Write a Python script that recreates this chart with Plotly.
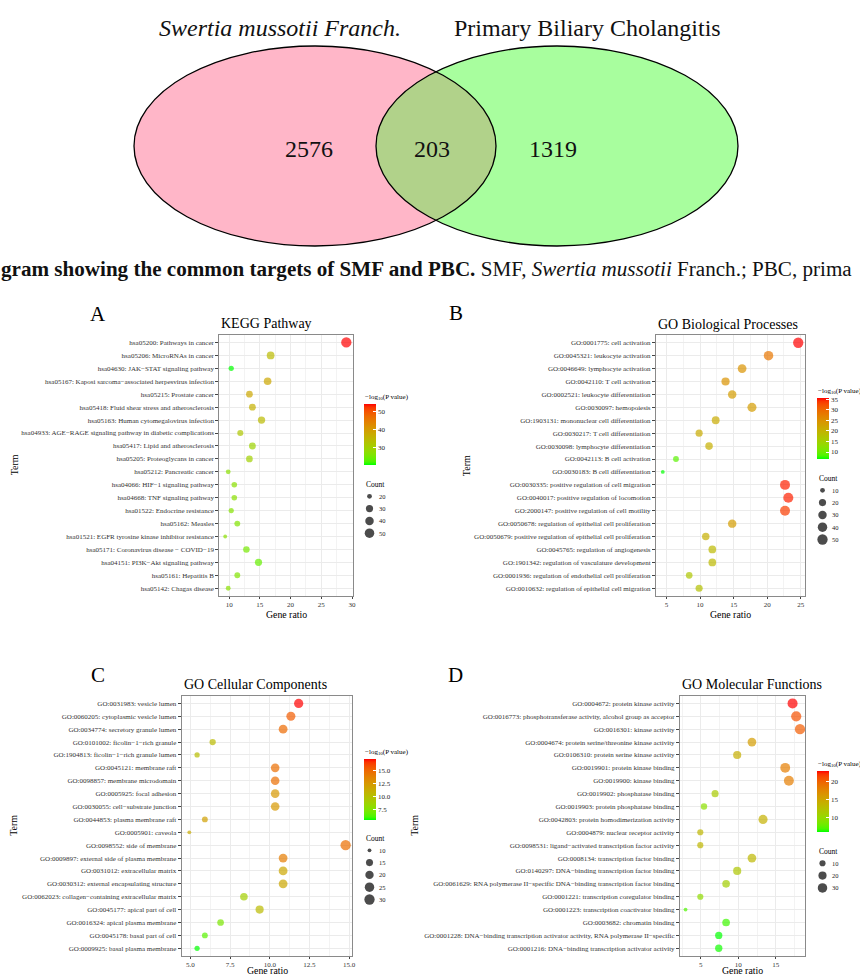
import math
import plotly.graph_objects as go

W, H = 860, 976
FONT = "Liberation Serif"

# ---------------- data ----------------
venn_names = ["Swertia mussotii Franch.", "Primary Biliary Cholangitis"]
venn_values = [2576, 203, 1319]  # left only, shared, right only

kegg_terms = [
    "hsa05200: Pathways in cancer", "hsa05206: MicroRNAs in cancer",
    "hsa04630: JAK−STAT signaling pathway",
    "hsa05167: Kaposi sarcoma−associated herpesvirus infection",
    "hsa05215: Prostate cancer", "hsa05418: Fluid shear stress and atherosclerosis",
    "hsa05163: Human cytomegalovirus infection",
    "hsa04933: AGE−RAGE signaling pathway in diabetic complications",
    "hsa05417: Lipid and atherosclerosis", "hsa05205: Proteoglycans in cancer",
    "hsa05212: Pancreatic cancer", "hsa04066: HIF−1 signaling pathway",
    "hsa04668: TNF signaling pathway", "hsa01522: Endocrine resistance",
    "hsa05162: Measles", "hsa01521: EGFR tyrosine kinase inhibitor resistance",
    "hsa05171: Coronavirus disease − COVID−19", "hsa04151: PI3K−Akt signaling pathway",
    "hsa05161: Hepatitis B", "hsa05142: Chagas disease",
]
kegg_ratio = [29.06, 16.75, 10.34, 16.26, 13.30, 13.79, 15.27, 11.82, 13.79, 13.30,
              9.85, 10.84, 10.84, 10.34, 11.33, 9.36, 12.81, 14.78, 11.33, 9.85]
kegg_count = [59, 34, 21, 33, 27, 28, 31, 24, 28, 27, 20, 22, 22, 21, 23, 19, 26, 30, 23, 20]
kegg_logp = [54.1, 34.1, 20.2, 37.8, 37.8, 36.1, 34.4, 32.1, 29.4, 30.0,
             27.0, 27.0, 27.0, 26.3, 26.0, 27.0, 25.0, 23.6, 26.0, 27.0]

bp_terms = [
    "GO:0001775: cell activation", "GO:0045321: leukocyte activation",
    "GO:0046649: lymphocyte activation", "GO:0042110: T cell activation",
    "GO:0002521: leukocyte differentiation", "GO:0030097: hemopoiesis",
    "GO:1903131: mononuclear cell differentiation", "GO:0030217: T cell differentiation",
    "GO:0030098: lymphocyte differentiation", "GO:0042113: B cell activation",
    "GO:0030183: B cell differentiation", "GO:0030335: positive regulation of cell migration",
    "GO:0040017: positive regulation of locomotion",
    "GO:2000147: positive regulation of cell motility",
    "GO:0050678: regulation of epithelial cell proliferation",
    "GO:0050679: positive regulation of epithelial cell proliferation",
    "GO:0045765: regulation of angiogenesis",
    "GO:1901342: regulation of vasculature development",
    "GO:0001936: regulation of endothelial cell proliferation",
    "GO:0010632: regulation of epithelial cell migration",
]
bp_ratio = [24.63, 20.20, 16.26, 13.79, 14.78, 17.73, 12.32, 9.85, 11.33, 6.40,
            4.43, 22.66, 23.15, 22.66, 14.78, 10.84, 11.82, 11.82, 8.37, 9.85]
bp_count = [50, 41, 33, 28, 30, 36, 25, 20, 23, 13, 9, 46, 47, 46, 30, 22, 24, 24, 17, 20]
bp_logp = [35.5, 28.3, 24.6, 24.6, 23.4, 23.4, 21.1, 21.1, 20.5, 9.0,
           6.7, 34.6, 34.6, 33.5, 23.4, 20.5, 18.8, 18.8, 16.8, 17.6]

cc_terms = [
    "GO:0031983: vesicle lumen", "GO:0060205: cytoplasmic vesicle lumen",
    "GO:0034774: secretory granule lumen", "GO:0101002: ficolin−1−rich granule",
    "GO:1904813: ficolin−1−rich granule lumen", "GO:0045121: membrane raft",
    "GO:0098857: membrane microdomain", "GO:0005925: focal adhesion",
    "GO:0030055: cell−substrate junction", "GO:0044853: plasma membrane raft",
    "GO:0005901: caveola", "GO:0098552: side of membrane",
    "GO:0009897: external side of plasma membrane", "GO:0031012: extracellular matrix",
    "GO:0030312: external encapsulating structure",
    "GO:0062023: collagen−containing extracellular matrix",
    "GO:0045177: apical part of cell", "GO:0016324: apical plasma membrane",
    "GO:0045178: basal part of cell", "GO:0009925: basal plasma membrane",
]
cc_ratio = [11.82, 11.33, 10.84, 6.40, 5.42, 10.34, 10.34, 10.34, 10.34, 5.91,
            4.93, 14.78, 10.84, 10.84, 10.84, 8.37, 9.36, 6.90, 5.91, 5.42]
cc_count = [24, 23, 22, 13, 11, 21, 21, 21, 21, 12, 10, 30, 22, 22, 22, 17, 19, 14, 12, 11]
cc_logp = [17.25, 15.5, 14.9, 10.4, 10.2, 14.7, 14.7, 12.55, 12.55, 12.0,
           11.4, 14.7, 14.0, 11.6, 11.6, 9.0, 10.4, 7.3, 6.4, 5.5]

mf_terms = [
    "GO:0004672: protein kinase activity",
    "GO:0016773: phosphotransferase activity, alcohol group as acceptor",
    "GO:0016301: kinase activity", "GO:0004674: protein serine/threonine kinase activity",
    "GO:0106310: protein serine kinase activity", "GO:0019901: protein kinase binding",
    "GO:0019900: kinase binding", "GO:0019902: phosphatase binding",
    "GO:0019903: protein phosphatase binding", "GO:0042803: protein homodimerization activity",
    "GO:0004879: nuclear receptor activity",
    "GO:0098531: ligand−activated transcription factor activity",
    "GO:0008134: transcription factor binding",
    "GO:0140297: DNA−binding transcription factor binding",
    "GO:0061629: RNA polymerase II−specific DNA−binding transcription factor binding",
    "GO:0001221: transcription coregulator binding",
    "GO:0001223: transcription coactivator binding", "GO:0003682: chromatin binding",
    "GO:0001228: DNA−binding transcription activator activity, RNA polymerase II−specific",
    "GO:0001216: DNA−binding transcription activator activity",
]
mf_ratio = [17.24, 17.73, 18.23, 11.82, 9.85, 16.26, 16.75, 6.90, 5.42, 13.30,
            4.93, 4.93, 11.82, 9.85, 8.37, 4.93, 2.96, 8.37, 7.39, 7.39]
mf_count = [35, 36, 37, 24, 20, 33, 34, 14, 11, 27, 10, 10, 24, 20, 17, 10, 6, 17, 15, 15]
mf_logp = [22.9, 20.9, 20.4, 15.8, 14.2, 18.2, 18.2, 11.5, 9.5, 14.0,
           13.5, 13.5, 13.3, 12.0, 11.1, 9.8, 7.1, 6.8, 6.1, 6.3]

panel_titles = ["KEGG Pathway", "GO Biological Processes",
                "GO Cellular Components", "GO Molecular Functions"]
panel_letters = ["A", "B", "C", "D"]
count_breaks = [[20, 30, 40, 50], [10, 20, 30, 40, 50], [10, 15, 20, 25, 30], [10, 20, 30]]
color_ticks = [[30, 40, 50], [10, 15, 20, 25, 30, 35], [7.5, 10, 12.5, 15], [10, 15, 20]]

# ---------------- layout geometry (pixels) ----------------
geom = [
    dict(box=(219.3, 334.7, 352.7, 596.0), xr=(8.4, 30.1), dt=5, minor=2.5, fmt="d",
         letter=(97.5, 314), term_x=14, leg_x=364, cb_top=404, cnt_top=484),
    dict(box=(656.0, 335.0, 805.0, 596.0), xr=(3.42, 25.64), dt=5, minor=2.5, fmt="d",
         letter=(455.5, 313), term_x=466.7, leg_x=817, cb_top=398, cnt_top=478),
    dict(box=(181.7, 695.7, 352.3, 956.0), xr=(4.45, 15.2), dt=2.5, minor=1.25, fmt=".1f",
         letter=(97.5, 675), term_x=14, leg_x=364, cb_top=758.5, cnt_top=838),
    dict(box=(680.0, 695.7, 805.0, 956.0), xr=(2.22, 18.9), dt=5, minor=2.5, fmt="d",
         letter=(455.5, 675), term_x=415, leg_x=817, cb_top=771, cnt_top=851),
]


# ---------------- colour scale (Lab interpolation green -> red, like ggplot) ----------------
def _lin(c):
    c /= 255.0
    return c / 12.92 if c <= 0.04045 else ((c + 0.055) / 1.055) ** 2.4


def _gam(c):
    c = 12.92 * c if c <= 0.0031308 else 1.055 * c ** (1 / 2.4) - 0.055
    return max(0, min(255, round(c * 255)))


WX, WY, WZ = 0.95047, 1.0, 1.08883


def rgb2lab(rgb):
    r, g, b = (_lin(v) for v in rgb)
    x = (0.4124 * r + 0.3576 * g + 0.1805 * b) / WX
    y = (0.2126 * r + 0.7152 * g + 0.0722 * b) / WY
    z = (0.0193 * r + 0.1192 * g + 0.9505 * b) / WZ
    f = lambda t: t ** (1 / 3) if t > 0.008856 else 7.787 * t + 16 / 116
    fx, fy, fz = f(x), f(y), f(z)
    return (116 * fy - 16, 500 * (fx - fy), 200 * (fy - fz))


def lab2rgb(lab):
    L, a, b = lab
    fy = (L + 16) / 116
    fx = fy + a / 500
    fz = fy - b / 200
    finv = lambda t: t ** 3 if t ** 3 > 0.008856 else (t - 16 / 116) / 7.787
    x, y, z = finv(fx) * WX, finv(fy) * WY, finv(fz) * WZ
    r = 3.2406 * x - 1.5372 * y - 0.4986 * z
    g = -0.9689 * x + 1.8758 * y + 0.0415 * z
    bb = 0.0557 * x - 0.2040 * y + 1.0570 * z
    return tuple(_gam(max(0.0, v)) for v in (r, g, bb))


lab_lo, lab_hi = rgb2lab((0, 255, 0)), rgb2lab((255, 0, 0))
colorscale = []
for i in range(21):
    t = i / 20
    lab = tuple(lab_lo[k] + (lab_hi[k] - lab_lo[k]) * t for k in range(3))
    r, g, b = lab2rgb(lab)
    colorscale.append([t, f"rgb({r},{g},{b})"])

# ---------------- figure ----------------
fig = go.Figure()
annotations = []
shapes = []


def px2paper_x(px):
    return px / W


def px2paper_y(py):
    return 1 - py / H


def size_map(c, cmin, cmax, dmin=3.8, dmax=10.3):
    return dmin + (dmax - dmin) * math.sqrt((c - cmin) / (cmax - cmin))


datasets = [
    (kegg_terms, kegg_ratio, kegg_count, kegg_logp),
    (bp_terms, bp_ratio, bp_count, bp_logp),
    (cc_terms, cc_ratio, cc_count, cc_logp),
    (mf_terms, mf_ratio, mf_count, mf_logp),
]

# overlay axis in pixel coordinates (venn + size legend keys) -- drawn first (bottom)
layout_axes = {}
layout_axes["xaxis"] = dict(domain=[0, 1], range=[0, W], visible=False, fixedrange=True,
                            anchor="y")
layout_axes["yaxis"] = dict(domain=[0, 1], range=[H, 0], visible=False, fixedrange=True,
                            anchor="x")

# ---------------- Venn diagram ----------------
cxL, cxR, cy, rx, ry = 315.0, 557.0, 146.0, 181.0, 100.0
pink, green, mix = "#FFB6C8", "#A8FE9E", "#B1D28A"
shapes.append(dict(type="circle", xref="x", yref="y", x0=cxL - rx, x1=cxL + rx,
                   y0=cy - ry, y1=cy + ry, fillcolor=pink, line=dict(width=0), layer="below"))
shapes.append(dict(type="circle", xref="x", yref="y", x0=cxR - rx, x1=cxR + rx,
                   y0=cy - ry, y1=cy + ry, fillcolor=green, line=dict(width=0), layer="below"))
xi = (cxL + cxR) / 2
th = math.acos((xi - cxL) / rx)
lens_x, lens_y = [], []
N = 60
for k in range(N + 1):
    a = -th + 2 * th * k / N
    lens_x.append(cxL + rx * math.cos(a))
    lens_y.append(cy + ry * math.sin(a))
for k in range(N + 1):
    a = math.pi + th - 2 * th * k / N
    lens_x.append(cxR + rx * math.cos(a))
    lens_y.append(cy + ry * math.sin(a))
fig.add_trace(go.Scatter(x=lens_x, y=lens_y, xaxis="x", yaxis="y", mode="lines",
                         fill="toself", fillcolor=mix, line=dict(width=0),
                         showlegend=False, hoverinfo="skip"))
for cxx in (cxL, cxR):
    shapes.append(dict(type="circle", xref="x", yref="y", x0=cxx - rx, x1=cxx + rx,
                       y0=cy - ry, y1=cy + ry, line=dict(color="black", width=1.3),
                       fillcolor="rgba(0,0,0,0)", layer="above"))

leg_x_dots, leg_y_dots, leg_s_dots = [], [], []

for i, ((terms, ratio, count, logp), g) in enumerate(zip(datasets, geom)):
    sfx = str(i + 2)
    xa, ya = "x" + sfx, "y" + sfx
    ca = "coloraxis" if i == 0 else "coloraxis" + str(i + 1)
    cmin_c, cmax_c = min(count), max(count)
    sizes = [size_map(c, cmin_c, cmax_c) for c in count]
    fig.add_trace(go.Scatter(
        x=ratio, y=terms, mode="markers", xaxis=xa, yaxis=ya,
        marker=dict(size=sizes, color=logp, coloraxis=ca, line=dict(width=0)),
        showlegend=False, hoverinfo="x+y",
    ))
    x0, y0, x1, y1 = g["box"]
    axis_common = dict(showline=True, mirror=True, linecolor="#8a8a8a", linewidth=1,
                       ticks="outside", tickwidth=1, tickcolor="#444444",
                       tickfont=dict(family=FONT, size=7, color="#333333"),
                       showgrid=True, gridcolor="#EBEBEB", gridwidth=1,
                       zeroline=False, fixedrange=True)
    lo, hi = g["xr"]
    layout_axes["xaxis" + sfx] = dict(
        domain=[px2paper_x(x0), px2paper_x(x1)], anchor=ya, range=[lo, hi],
        tickmode="linear", tick0=0, dtick=g["dt"], tickformat=g["fmt"], ticklen=2,
        minor=dict(tickmode="linear", tick0=0, dtick=g["minor"], showgrid=True,
                   gridcolor="#F3F3F3", gridwidth=0.6),
        **axis_common)
    layout_axes["yaxis" + sfx] = dict(
        domain=[px2paper_y(y1), px2paper_y(y0)], anchor=xa, type="category",
        categoryorder="array", categoryarray=terms, ticklen=3,
        range=[len(terms) - 0.4, -0.6], **axis_common)

    lp_min, lp_max = min(logp), max(logp)
    ct = color_ticks[i]
    layout_axes[ca] = dict(
        colorscale=colorscale, cmin=lp_min, cmax=lp_max,
        colorbar=dict(x=px2paper_x(g["leg_x"]), xanchor="left",
                      y=px2paper_y(g["cb_top"]), yanchor="top",
                      len=61, lenmode="pixels", thickness=12, thicknessmode="pixels",
                      outlinewidth=0, xpad=0, ypad=0,
                      ticks="inside", ticklen=3, tickcolor="white", tickwidth=1,
                      tickmode="array", tickvals=ct,
                      ticktext=[f"{t:.1f}" if g["fmt"] == ".1f" else f"{int(t)}" for t in ct],
                      tickfont=dict(family=FONT, size=7, color="#222222")))

    cx = (x0 + x1) / 2
    annotations.append(dict(x=px2paper_x(x0), y=px2paper_y(y0 - 11), xref="paper", yref="paper",
                            text=panel_titles[i], showarrow=False, xanchor="left",
                            yanchor="middle", font=dict(family=FONT, size=14, color="black")))
    lx, ly = g["letter"]
    annotations.append(dict(x=px2paper_x(lx), y=px2paper_y(ly), xref="paper", yref="paper",
                            text=panel_letters[i], showarrow=False, xanchor="center",
                            yanchor="middle", font=dict(family=FONT, size=21, color="black")))
    gy = min(y1 + 18, H - 5.5)
    annotations.append(dict(x=px2paper_x(cx), y=px2paper_y(gy), xref="paper", yref="paper",
                            text="Gene ratio", showarrow=False, xanchor="center",
                            yanchor="middle", borderpad=0,
                            font=dict(family=FONT, size=9.8, color="black")))
    annotations.append(dict(x=px2paper_x(g["term_x"]), y=px2paper_y((y0 + y1) / 2),
                            xref="paper", yref="paper", text="Term", textangle=-90,
                            showarrow=False, xanchor="center", yanchor="middle",
                            font=dict(family=FONT, size=10, color="black")))
    annotations.append(dict(x=px2paper_x(g["leg_x"] - 1), y=px2paper_y(g["cb_top"] - 7),
                            xref="paper", yref="paper",
                            text="−log<sub>10</sub>(P value)", showarrow=False,
                            xanchor="left", yanchor="middle",
                            font=dict(family=FONT, size=7, color="black")))
    annotations.append(dict(x=px2paper_x(g["leg_x"]), y=px2paper_y(g["cnt_top"]),
                            xref="paper", yref="paper", text="Count", showarrow=False,
                            xanchor="left", yanchor="middle",
                            font=dict(family=FONT, size=7.5, color="black")))
    for k, cb in enumerate(count_breaks[i]):
        yy = g["cnt_top"] + 12.3 * (k + 1)
        leg_x_dots.append(g["leg_x"] + 5.5)
        leg_y_dots.append(yy)
        leg_s_dots.append(size_map(cb, cmin_c, cmax_c))
        annotations.append(dict(x=px2paper_x(g["leg_x"] + 13), y=px2paper_y(yy),
                                xref="paper", yref="paper", text=str(cb), showarrow=False,
                                xanchor="left", yanchor="middle",
                                font=dict(family=FONT, size=6.5, color="#222222")))

fig.add_trace(go.Scatter(x=leg_x_dots, y=leg_y_dots, xaxis="x", yaxis="y", mode="markers",
                         marker=dict(size=leg_s_dots, color="black", line=dict(width=0)),
                         showlegend=False, hoverinfo="skip"))

for txt, xx in zip(venn_values, (309, 432, 553)):
    annotations.append(dict(x=xx / W, y=px2paper_y(cy + 3), xref="paper", yref="paper",
                            text=str(txt), showarrow=False, xanchor="center", yanchor="middle",
                            font=dict(family=FONT, size=24, color="#111111")))
annotations.append(dict(x=280 / W, y=px2paper_y(28), xref="paper", yref="paper",
                        text=f"<i>{venn_names[0]}</i>",
                        showarrow=False, xanchor="center", yanchor="middle",
                        font=dict(family=FONT, size=24, color="#111111")))
annotations.append(dict(x=587 / W, y=px2paper_y(28), xref="paper", yref="paper",
                        text=venn_names[1],
                        showarrow=False, xanchor="center", yanchor="middle",
                        font=dict(family=FONT, size=24, color="#111111")))
annotations.append(dict(x=0, y=px2paper_y(269), xref="paper", yref="paper",
                        text="<b>gram showing the common targets of SMF and PBC.</b> SMF, "
                             "<i>Swertia mussotii</i> Franch.; PBC, prima",
                        showarrow=False, xanchor="left", yanchor="middle", borderpad=0,
                        font=dict(family=FONT, size=21.1, color="#111111")))

fig.update_layout(width=W, height=H, margin=dict(l=0, r=0, t=0, b=0),
                  template="none", paper_bgcolor="white", plot_bgcolor="rgba(0,0,0,0)",
                  annotations=annotations, shapes=shapes, showlegend=False, **layout_axes)

fig.write_html("out.html", config={"displayModeBar": False},
               post_script="document.body.style.margin='0';")
